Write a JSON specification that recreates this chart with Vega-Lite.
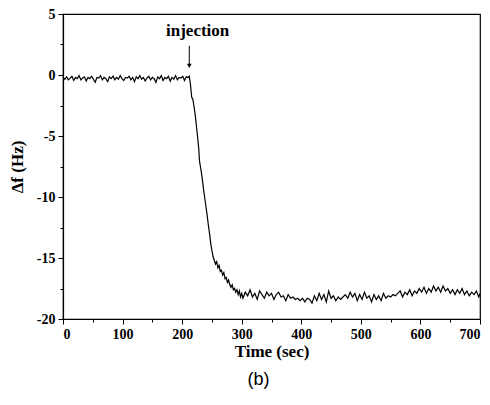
{
  "$schema": "https://vega.github.io/schema/vega-lite/v6.json",
  "width": 417,
  "height": 305,
  "autosize": "none",
  "padding": {"left": 63, "top": 14, "right": 10, "bottom": 86},
  "background": "white",
  "config": {
    "view": {"stroke": "black", "strokeWidth": 1.2},
    "axis": {
      "grid": false,
      "domainColor": "black",
      "domainWidth": 1.2,
      "tickColor": "black",
      "labelColor": "black",
      "titleColor": "black",
      "labelFont": "Liberation Serif",
      "labelFontWeight": "bold",
      "labelFontSize": 14,
      "titleFont": "Liberation Serif",
      "titleFontWeight": "bold",
      "titleFontSize": 17
    }
  },
  "title": {"text": "(b)", "orient": "bottom", "font": "Liberation Sans", "fontSize": 18, "fontWeight": "normal", "color": "black", "offset": 12, "dx": -13},
  "datasets": {
    "signal": [
      {"t":0,"f":-0.2},{"t":3,"f":-0.35},{"t":6,"f":-0.15},{"t":9,"f":-0.4},{"t":12,"f":-0.25},{"t":15,"f":-0.1},{"t":18,"f":-0.45},{"t":21,"f":-0.2},{"t":24,"f":-0.3},{"t":27,"f":-0.05},{"t":30,"f":-0.4},{"t":33,"f":-0.25},{"t":36,"f":-0.15},{"t":39,"f":-0.5},{"t":42,"f":-0.2},{"t":45,"f":-0.3},{"t":48,"f":-0.1},{"t":51,"f":-0.35},{"t":54,"f":-0.6},{"t":57,"f":-0.2},{"t":60,"f":-0.25},{"t":63,"f":-0.05},{"t":66,"f":-0.4},{"t":69,"f":-0.2},{"t":72,"f":-0.3},{"t":75,"f":-0.55},{"t":78,"f":-0.15},{"t":81,"f":-0.3},{"t":84,"f":-0.1},{"t":87,"f":-0.4},{"t":90,"f":-0.2},{"t":93,"f":-0.35},{"t":96,"f":-0.05},{"t":99,"f":-0.3},{"t":102,"f":-0.45},{"t":105,"f":-0.2},{"t":108,"f":-0.25},{"t":111,"f":-0.1},{"t":114,"f":-0.4},{"t":117,"f":-0.2},{"t":120,"f":-0.55},{"t":123,"f":-0.15},{"t":126,"f":-0.3},{"t":129,"f":-0.05},{"t":132,"f":-0.35},{"t":135,"f":-0.2},{"t":138,"f":-0.5},{"t":141,"f":-0.25},{"t":144,"f":-0.1},{"t":147,"f":-0.4},{"t":150,"f":-0.2},{"t":153,"f":-0.3},{"t":156,"f":-0.6},{"t":159,"f":-0.15},{"t":162,"f":-0.3},{"t":165,"f":-0.05},{"t":168,"f":-0.45},{"t":171,"f":-0.2},{"t":174,"f":-0.3},{"t":177,"f":-0.1},{"t":180,"f":-0.5},{"t":183,"f":-0.2},{"t":186,"f":-0.35},{"t":189,"f":-0.05},{"t":192,"f":-0.4},{"t":195,"f":-0.2},{"t":198,"f":-0.25},{"t":201,"f":-0.1},{"t":204,"f":-0.45},{"t":207,"f":-0.15},{"t":210,"f":-0.2},{"t":212,"f":-0.1},
      {"t":214,"f":-0.8},{"t":216,"f":-1.8},{"t":218,"f":-2.0},{"t":220,"f":-2.6},{"t":222,"f":-3.3},{"t":224,"f":-4.2},{"t":226,"f":-5.1},{"t":228,"f":-6.1},{"t":229,"f":-7.0},{"t":230,"f":-7.3},{"t":232,"f":-7.9},{"t":234,"f":-8.6},{"t":236,"f":-9.4},{"t":238,"f":-10.1},{"t":240,"f":-10.8},{"t":242,"f":-11.5},{"t":244,"f":-12.3},{"t":246,"f":-13.0},{"t":248,"f":-13.8},{"t":250,"f":-14.4},{"t":252,"f":-14.9},{"t":254,"f":-15.2},{"t":256,"f":-15.5},{"t":258,"f":-15.3},{"t":260,"f":-15.8},{"t":262,"f":-15.6},{"t":264,"f":-16.1},{"t":266,"f":-16.0},{"t":268,"f":-16.4},{"t":270,"f":-16.2},{"t":272,"f":-16.7},{"t":274,"f":-16.6},{"t":276,"f":-17.0},{"t":278,"f":-16.8},{"t":280,"f":-17.2},{"t":282,"f":-17.4},{"t":284,"f":-17.2},{"t":286,"f":-17.6},{"t":288,"f":-17.5},{"t":290,"f":-17.8},{"t":292,"f":-17.6},{"t":294,"f":-18.0},{"t":296,"f":-17.7},{"t":298,"f":-18.2},{"t":300,"f":-17.9},
      {"t":302,"f":-18.3},{"t":306,"f":-17.8},{"t":310,"f":-18.1},{"t":314,"f":-17.6},{"t":318,"f":-18.2},{"t":322,"f":-17.9},{"t":326,"f":-18.4},{"t":330,"f":-17.7},{"t":334,"f":-18.0},{"t":338,"f":-18.3},{"t":342,"f":-17.8},{"t":346,"f":-18.1},{"t":350,"f":-17.9},{"t":354,"f":-18.4},{"t":358,"f":-18.0},{"t":362,"f":-17.8},{"t":366,"f":-18.2},{"t":370,"f":-18.1},{"t":374,"f":-18.5},{"t":378,"f":-18.0},{"t":382,"f":-18.3},{"t":386,"f":-18.2},{"t":390,"f":-18.4},{"t":394,"f":-18.3},{"t":398,"f":-18.5},{"t":402,"f":-18.3},{"t":406,"f":-18.6},{"t":410,"f":-18.3},{"t":414,"f":-18.4},{"t":418,"f":-18.7},{"t":422,"f":-18.1},{"t":426,"f":-18.5},{"t":430,"f":-17.9},{"t":434,"f":-18.4},{"t":438,"f":-18.0},{"t":442,"f":-18.6},{"t":446,"f":-17.7},{"t":450,"f":-18.3},{"t":454,"f":-18.1},{"t":458,"f":-18.5},{"t":462,"f":-18.2},{"t":466,"f":-18.4},{"t":470,"f":-18.2},{"t":474,"f":-18.0},{"t":478,"f":-18.3},{"t":482,"f":-17.8},{"t":486,"f":-18.2},{"t":490,"f":-17.9},{"t":494,"f":-18.5},{"t":498,"f":-18.0},{"t":502,"f":-18.4},{"t":506,"f":-17.8},{"t":510,"f":-18.3},{"t":514,"f":-18.1},{"t":518,"f":-18.6},{"t":522,"f":-18.0},{"t":526,"f":-18.4},{"t":530,"f":-18.1},{"t":534,"f":-18.5},{"t":538,"f":-17.9},{"t":542,"f":-18.3},{"t":546,"f":-18.1},{"t":550,"f":-18.2},{"t":554,"f":-18.0},{"t":558,"f":-18.1},{"t":562,"f":-17.9},{"t":566,"f":-17.7},{"t":570,"f":-18.2},{"t":574,"f":-17.8},{"t":578,"f":-18.0},{"t":582,"f":-17.6},{"t":586,"f":-18.1},{"t":590,"f":-17.7},{"t":594,"f":-17.9},{"t":598,"f":-17.5},{"t":602,"f":-17.8},{"t":606,"f":-17.4},{"t":610,"f":-17.9},{"t":614,"f":-17.5},{"t":618,"f":-17.8},{"t":622,"f":-17.3},{"t":626,"f":-17.7},{"t":630,"f":-17.4},{"t":634,"f":-17.8},{"t":638,"f":-17.3},{"t":642,"f":-17.7},{"t":646,"f":-17.5},{"t":650,"f":-17.9},{"t":654,"f":-17.6},{"t":658,"f":-18.0},{"t":662,"f":-17.6},{"t":666,"f":-17.9},{"t":670,"f":-17.5},{"t":674,"f":-18.0},{"t":678,"f":-17.7},{"t":682,"f":-18.1},{"t":686,"f":-17.8},{"t":690,"f":-18.0},{"t":694,"f":-17.7},{"t":698,"f":-18.2},{"t":700,"f":-17.9}
    ],
    "arrow": [{"t": 212, "y1": 2.4, "y2": 0.9, "head": 0.75, "ty": 3.6, "tx": 226, "label": "injection"}]
  },
  "layer": [
    {
      "data": {"name": "signal"},
      "mark": {"type": "line", "color": "black", "strokeWidth": 1.2},
      "encoding": {
        "x": {"field": "t", "type": "quantitative", "scale": {"domain": [0, 700], "nice": false},
              "axis": {"title": "Time (sec)", "values": [0,100,200,300,400,500,600,700], "tickSize": 5, "labelPadding": 3, "titlePadding": 2, "orient": "bottom"}},
        "y": {"field": "f", "type": "quantitative", "scale": {"domain": [-20, 5], "nice": false, "zero": false},
              "axis": {"title": "Δf (Hz)", "values": [-20,-15,-10,-5,0,5], "tickSize": 5, "labelPadding": 3, "titlePadding": 10, "orient": "left", "labelExpr": "toString(datum.value)"}}
      }
    },
    {
      "data": {"name": "arrow"},
      "mark": {"type": "rule", "color": "black", "strokeWidth": 1},
      "encoding": {
        "x": {"field": "t", "type": "quantitative",
              "axis": {"title": null, "values": [50,150,250,350,450,550,650], "tickSize": 3, "labels": false, "domain": false, "orient": "bottom"}},
        "y": {"field": "y1", "type": "quantitative",
              "axis": {"title": null, "values": [-17.5,-12.5,-7.5,-2.5,2.5], "tickSize": 3, "labels": false, "domain": false, "orient": "left"}},
        "y2": {"field": "y2"}
      }
    },
    {
      "data": {"name": "arrow"},
      "mark": {"type": "point", "shape": "triangle-down", "filled": true, "color": "black", "size": 22, "opacity": 1},
      "encoding": {
        "x": {"field": "t", "type": "quantitative", "axis": null},
        "y": {"field": "head", "type": "quantitative", "axis": null}
      }
    },
    {
      "data": {"name": "arrow"},
      "mark": {"type": "text", "font": "Liberation Serif", "fontWeight": "bold", "fontSize": 17, "color": "black", "baseline": "middle", "align": "center"},
      "encoding": {
        "x": {"field": "tx", "type": "quantitative", "axis": null},
        "y": {"field": "ty", "type": "quantitative", "axis": null},
        "text": {"field": "label"}
      }
    }
  ],
  "resolve": {"axis": {"x": "independent", "y": "independent"}}
}
